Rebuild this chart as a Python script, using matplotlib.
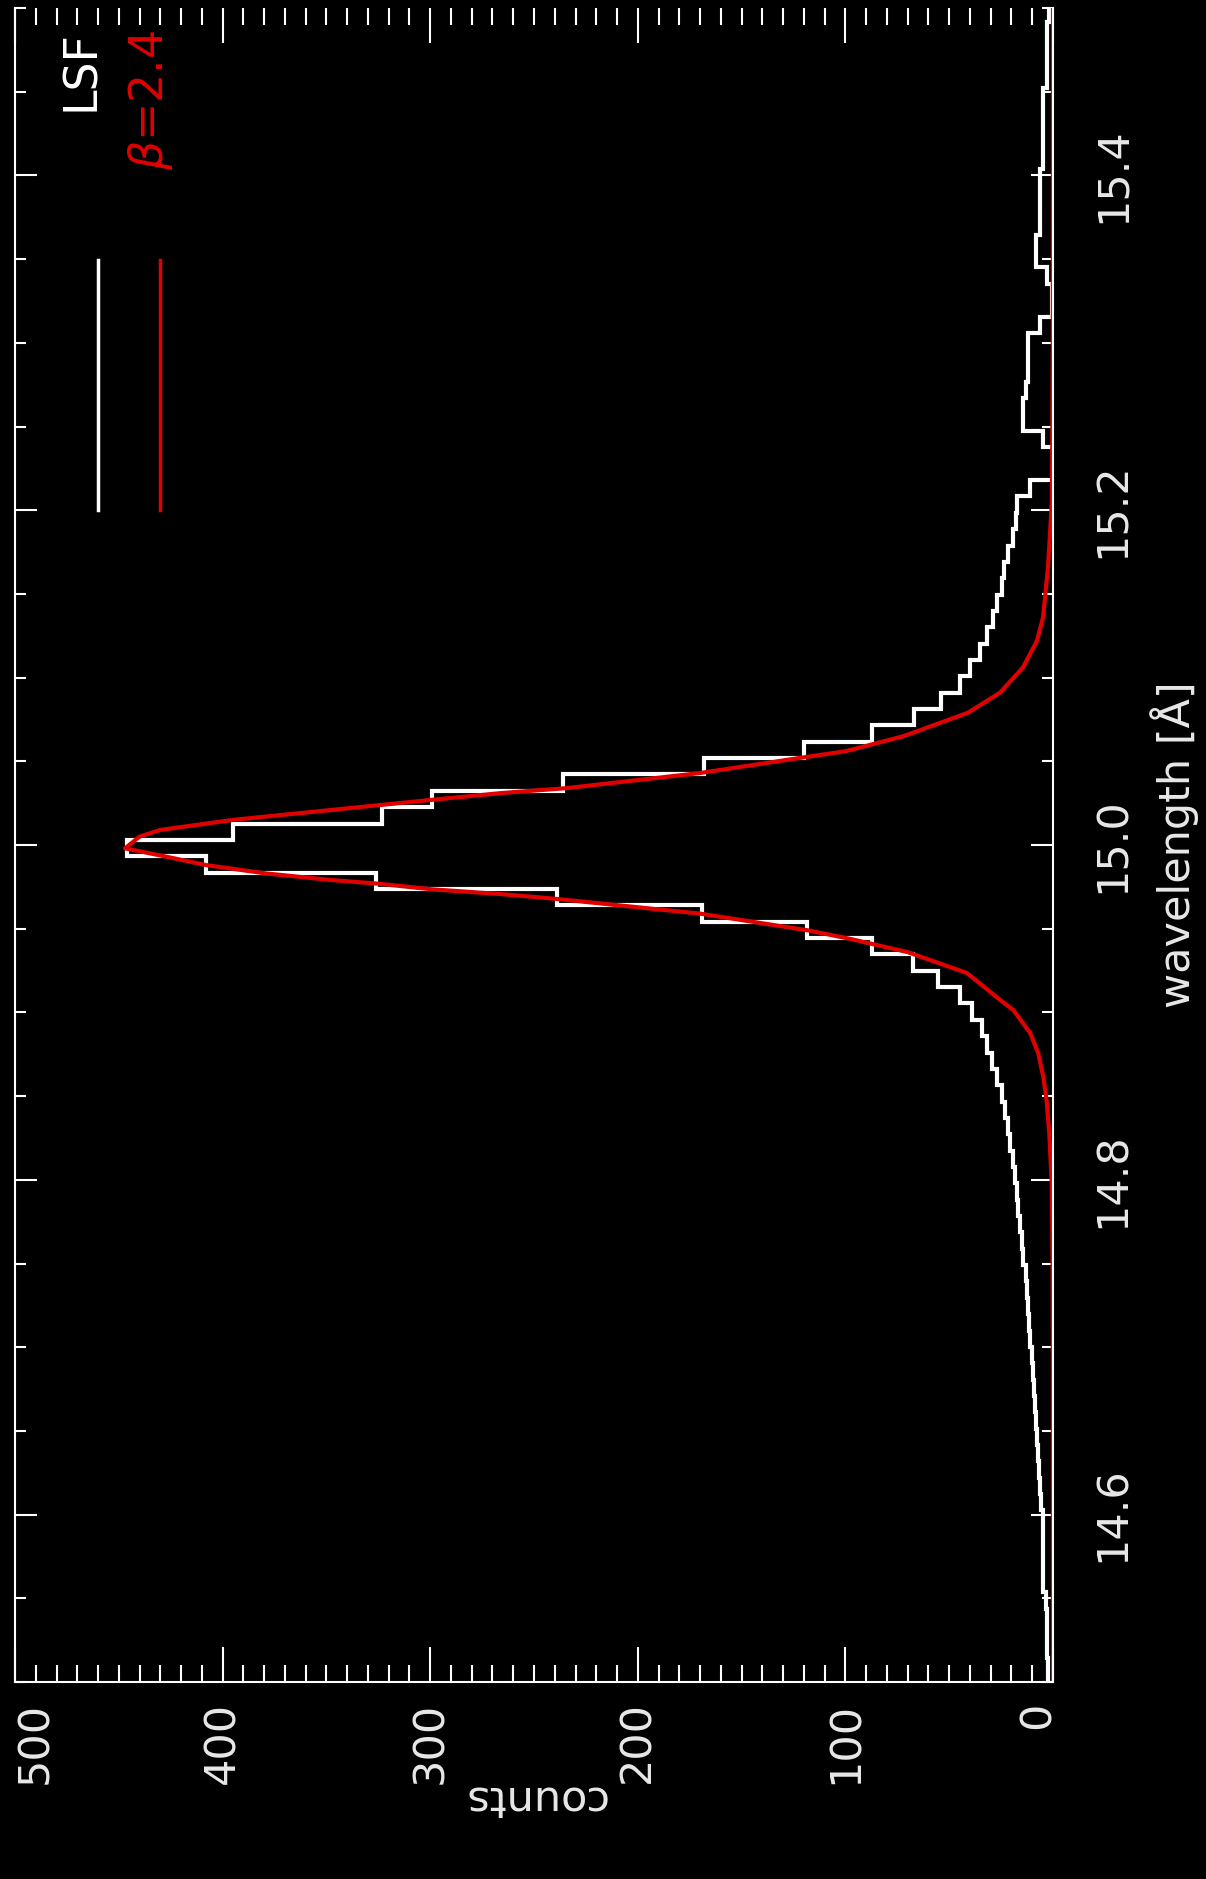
import numpy as np
import matplotlib.pyplot as plt
from matplotlib.ticker import MultipleLocator
from matplotlib.transforms import ScaledTranslation

# LSF histogram, bins of ~0.00977 A, counts from short to long wavelength
bin_start = 14.495
bin_width = 0.00977
lsf_counts = [2.4, 2.6, 3.0, 3.0, 3.0, 3.5, 4.8, 4.8, 4.8, 4.8,
              5.0, 5.8, 6.4, 6.7, 7.2, 7.6, 8.2, 8.7, 9.0, 9.8,
              10.3, 11.0, 11.4, 11.9, 12.7, 13.2, 14.3, 15.0, 16.0, 16.7,
              17.5, 18.3, 19.2, 20.7, 21.5, 23.0, 24.6, 27.0, 29.5, 31.6,
              34.0, 39.0, 45.0, 55.4, 67.5, 87.0, 118.5, 169.0, 239.0, 326.0,
              408.0, 446.0,
              395.0, 323.0, 299.0, 236.0, 168.0, 120.0, 87.0, 67.0, 54.0, 45.0,
              40.0, 35.0, 32.0, 29.0, 27.0, 24.6, 23.6, 21.5, 19.4, 18.0,
              17.5, 11.0, 0.0, 0.0, 5.0, 14.5, 14.5, 13.0, 12.0, 12.0,
              12.0, 6.3, 0.5, 0.5, 3.0, 8.0, 8.0, 6.3, 6.3, 6.3,
              6.3, 5.0, 5.0, 5.0, 5.0, 5.0, 3.0, 3.0, 3.0, 3.0,
              2.0]

# beta model (beta = 2.4)
fit_wave = [14.50, 14.70, 14.75, 14.798, 14.828, 14.8477, 14.8616, 14.8756,
            14.8877, 14.9014, 14.908, 14.9235, 14.936, 14.944, 14.949, 14.959,
            14.968, 14.9707, 14.9735, 14.977, 14.979, 14.983, 14.988, 14.993,
            14.998, 15.005, 15.009, 15.015, 15.019, 15.024, 15.027, 15.031,
            15.034, 15.043, 15.052, 15.056, 15.065, 15.079, 15.091, 15.106,
            15.122, 15.136, 15.166, 15.206, 15.30, 15.50]
fit_counts = [0, 0.1, 0.2, 0.6, 1.8, 3.1, 4.7, 7.1, 11.0, 19.1, 26, 41.4, 70,
              98, 118, 170, 241, 266, 299, 326, 347, 379, 408, 427, 447, 440,
              430, 395, 363, 323, 299, 266, 234, 170, 122, 100, 72, 41, 25.5,
              14.5, 7.7, 4.8, 2.4, 0.5, 0.1, 0]

count_ticks = [0, 100, 200, 300, 400, 500]
wave_ticks = [14.6, 14.8, 15.0, 15.2, 15.4]

W, H = 1206, 1879
fig = plt.figure(figsize=(W / 100, H / 100), dpi=100, facecolor='black')
ax = fig.add_axes([15 / W, (H - 1682) / H, (1053 - 15) / W, (1682 - 8) / H],
                  facecolor='black')

edges = bin_start + bin_width * np.arange(len(lsf_counts) + 1)
ax.stairs(lsf_counts, edges, orientation='horizontal', baseline=None,
          color='white', lw=3)
ax.plot(fit_counts, fit_wave, color='#e00000', lw=3, solid_joinstyle='round')

# legend drawn by hand, rotated like the rest of the page
ax.plot([0.080, 0.080], [0.700, 0.8495], transform=ax.transAxes, color='white', lw=2.5)
ax.plot([0.1397, 0.1397], [0.700, 0.8495], transform=ax.transAxes, color='#e00000', lw=2.5)
ax.text(0.0645, 0.987, 'LSF', transform=ax.transAxes, rotation=90,
        ha='center', va='top', color='white', fontsize=33)
ax.text(0.131, 0.987, r'$\beta$=2.4', transform=ax.transAxes, rotation=90,
        ha='center', va='top', color='#e00000', fontsize=33)

ax.set_xlim(500, 0)
ax.set_ylim(14.5, 15.5)

ax.set_xticks(count_ticks)
ax.xaxis.set_minor_locator(MultipleLocator(10))
ax.set_yticks(wave_ticks)
ax.yaxis.set_minor_locator(MultipleLocator(0.05))

tick_col = '#e8e8e8'
ax.tick_params(axis='x', which='both', direction='in', top=True, bottom=True,
               color='white', labelcolor=tick_col, width=1.5, labelsize=31,
               labelrotation=90, pad=14)
ax.tick_params(axis='x', which='major', length=25)
ax.tick_params(axis='x', which='minor', length=12)
ax.tick_params(axis='y', which='both', direction='in', left=True, right=True,
               labelleft=False, labelright=True, color='white',
               labelcolor=tick_col, width=1.5, labelsize=31, labelrotation=90,
               pad=28)
ax.tick_params(axis='y', which='major', length=16)
ax.tick_params(axis='y', which='minor', length=8)
for t in ax.get_yticklabels():
    t.set_va('center')

# end labels sit inside the frame, as in the original
xlabs = ax.get_xticklabels()
xlabs[0].set_transform(xlabs[0].get_transform() + ScaledTranslation(-0.15, 0, fig.dpi_scale_trans))
xlabs[-1].set_transform(xlabs[-1].get_transform() + ScaledTranslation(0.20, 0, fig.dpi_scale_trans))

for s in ['left', 'bottom', 'right']:
    ax.spines[s].set_color('white')
    ax.spines[s].set_linewidth(1.5)
ax.spines['top'].set_visible(False)

ax.set_xlabel('counts', rotation=180, fontsize=31, color=tick_col)
ax.xaxis.set_label_coords(0.5, (1682 - 1799) / 1674)
ax.xaxis.label.set_va('center')

ax.yaxis.set_label_position('right')
ax.set_ylabel('wavelength [Å]', fontsize=31, color=tick_col)
ax.yaxis.set_label_coords((1175 - 15) / 1038, 0.5)
ax.yaxis.label.set_rotation(90)
ax.yaxis.label.set_ha('center')
ax.yaxis.label.set_va('center')

fig.savefig('out.png', dpi=100, facecolor='black')
